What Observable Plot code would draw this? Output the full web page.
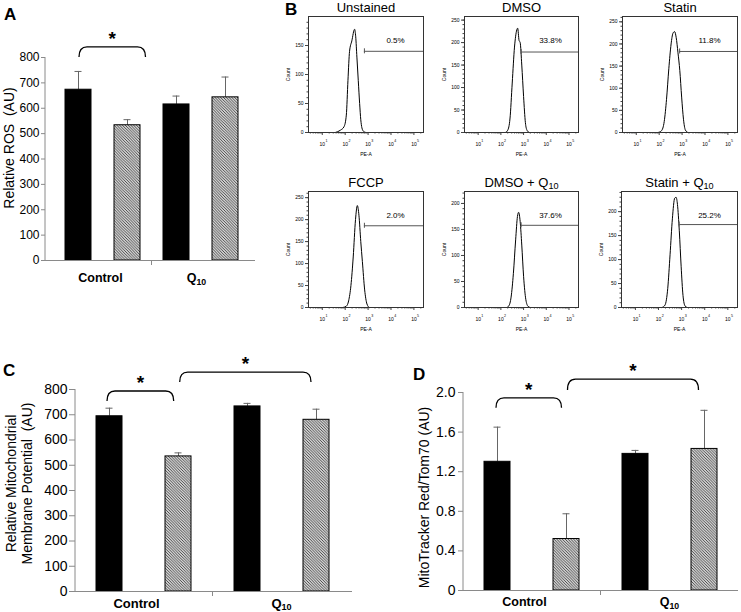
<!DOCTYPE html>
<html><head><meta charset="utf-8">
<script src="https://cdn.jsdelivr.net/npm/d3@7"></script>
<script src="https://cdn.jsdelivr.net/npm/@observablehq/plot@0.6"></script>
<style>
html,body{margin:0;padding:0;background:#fff;}
#fig{position:relative;width:741px;height:612px;overflow:hidden;background:#fff;font-family:'Liberation Sans',Arial,Helvetica,sans-serif;}
.panel{position:absolute;}
.panel svg{display:block;}
.letter{position:absolute;font-weight:bold;font-size:17px;line-height:17px;color:#000;}
</style></head>
<body>
<svg width="0" height="0" style="position:absolute">
  <defs>
    <pattern id="hatch" patternUnits="userSpaceOnUse" width="2.8" height="2.8">
      <rect width="2.8" height="2.8" fill="#d4d4d4"/>
      <path d="M-1,-1 L3.8,3.8 M-1,1.8 L1,3.8 M1.8,-1 L3.8,1" stroke="#2a2a2a" stroke-width="0.8"/>
    </pattern>
  </defs>
</svg>
<div id="fig">
  <div class="letter" style="left:4px;top:5.6px">A</div>
  <div class="letter" style="left:285px;top:0.6px">B</div>
  <div class="letter" style="left:3px;top:361.6px">C</div>
  <div class="letter" style="left:413px;top:365.6px">D</div>
</div>
<script>
// ---------------- data ----------------
const groups = ["Control", "Q10"];
const treatments = ["DMSO", "Statin"];
const barKeys = ["Control DMSO", "Control Statin", "Q10 DMSO", "Q10 Statin"];

// Panel A: relative ROS
const rosMean = [673, 533, 615, 643];
const rosErr  = [72, 22, 33, 80];
const rosTicks = [0, 100, 200, 300, 400, 500, 600, 700, 800];
const rosBrackets = [{from: 0, to: 1, top: 840, end: 800}];

// Panel C: mitochondrial membrane potential
const mmpMean = [694, 535, 733, 680];
const mmpErr  = [32, 14, 12, 42];
const mmpTicks = [0, 100, 200, 300, 400, 500, 600, 700, 800];
const mmpBrackets = [{from: 0, to: 1, top: 792, end: 752}, {from: 1, to: 3, top: 867, end: 828}];

// Panel D: MitoTracker Red / Tom70
const mitoMean = [1.30, 0.52, 1.38, 1.43];
const mitoErr  = [0.35, 0.255, 0.035, 0.39];
const mitoTicks = [0, 0.4, 0.8, 1.2, 1.6, 2.0];
const mitoTickLabels = ["0", "0.4", "0.8", "1.2", "1.6", "2.0"];
const mitoBrackets = [{from: 0, to: 1, top: 1.94, end: 1.84}, {from: 1, to: 3, top: 2.13, end: 2.02}];

// Panel B: flow cytometry histograms (PE-A vs Count)
const histTitles  = ["Unstained", "DMSO", "Statin", "FCCP", "DMSO + Q10", "Statin + Q10"];
const histPercent = ["0.5%", "33.8%", "11.8%", "2.0%", "37.6%", "25.2%"];
const peDomain = [2.5, 262144];
const peDecades = [10, 100, 1000, 10000, 100000];
const peExponents = ["1", "2", "3", "4", "5"];

const unstainedPE    = [37, 62, 89, 112, 132, 155, 195, 257, 288, 324, 372, 427, 479, 537, 631, 794];
const unstainedCount = [0, 4, 10, 30, 90, 140, 158, 178, 165, 130, 90, 50, 22, 8, 2, 0];
const dmsoPE    = [158, 200, 251, 316, 398, 501, 550, 631, 708, 832, 1000, 1202, 1413, 1778];
const dmsoCount = [0, 5, 30, 110, 190, 228, 232, 205, 200, 150, 80, 22, 5, 0];
const statinPE    = [89, 126, 166, 209, 263, 331, 398, 468, 550, 661, 794, 955, 1148, 1380, 1778];
const statinCount = [0, 4, 25, 75, 144, 200, 224, 228, 215, 180, 140, 80, 30, 6, 0];
const fccpPE    = [79, 112, 141, 178, 224, 282, 339, 398, 479, 562, 708, 891, 1122];
const fccpCount = [0, 3, 15, 50, 115, 200, 232, 210, 150, 105, 40, 8, 0];
const dmsoQ10PE    = [178, 224, 282, 355, 447, 537, 603, 708, 832, 1000, 1259, 1585, 1995];
const dmsoQ10Count = [0, 3, 20, 65, 130, 175, 183, 165, 120, 60, 15, 2, 0];
const statinQ10PE    = [141, 191, 251, 316, 398, 501, 575, 661, 794, 955, 1148, 1413, 1778];
const statinQ10Count = [0, 5, 40, 110, 185, 228, 230, 215, 160, 85, 25, 3, 0];

const histPE    = [unstainedPE, dmsoPE, statinPE, fccpPE, dmsoQ10PE, statinQ10PE];
const histCount = [unstainedCount, dmsoCount, statinCount, fccpCount, dmsoQ10Count, statinQ10Count];
const gateStart = [690, 780, 780, 690, 780, 780];
const gateCount = [140, 179, 183, 186, 158, 173];
const countMax  = [200, 258, 262, 264, 223, 242];
const countTicks = [
  [0, 50, 100, 150],
  [0, 50, 100, 150, 200, 250],
  [0, 50, 100, 150, 200, 250],
  [0, 50, 100, 150, 200, 250],
  [0, 50, 100, 150, 200],
  [0, 50, 100, 150, 200]
];

// ---------------- layout / style ----------------
const FONT = "'Liberation Sans', Arial, Helvetica, sans-serif";
const AXIS = "#8a8a8a";
const STAR = 19;
const fig = document.getElementById("fig");

function place(node, left, top, w, h) {
  const d = document.createElement("div");
  d.className = "panel";
  d.style.left = left + "px"; d.style.top = top + "px";
  d.style.width = w + "px"; d.style.height = h + "px";
  d.appendChild(node);
  fig.appendChild(d);
}

function addSub(t, s) {
  const m = /^(.*)Q10$/.exec(s);
  if (m) {
    t.text(m[1] + "Q");
    t.append("tspan").attr("dy", "0.3em").attr("font-size", "0.7em").text("10");
  } else t.text(s);
}

function annotate(cfg) {
  return (index, scales, values, dim) => {
    const x = scales.x, y = scales.y;
    const bw = typeof x.bandwidth === "function" ? x.bandwidth() : 0;
    const cx = i => x(barKeys[i]) + bw / 2;
    const g = d3.create("svg:g").attr("font-family", FONT);
    const left = dim.marginLeft, bottom = dim.height - dim.marginBottom;
    g.append("line").attr("x1", left).attr("x2", left).attr("y1", dim.marginTop).attr("y2", bottom)
      .attr("stroke", AXIS);
    const mid = (cx(1) + cx(2)) / 2;
    g.append("line").attr("x1", mid).attr("x2", mid).attr("y1", bottom).attr("y2", bottom + 5)
      .attr("stroke", AXIS);
    groups.forEach((gname, gi) => {
      const gx = (cx(2 * gi) + cx(2 * gi + 1)) / 2 + cfg.groupDx[gi];
      const t = g.append("text").attr("x", gx).attr("y", bottom + cfg.groupDy)
        .attr("text-anchor", "middle").attr("font-weight", "bold").attr("font-size", cfg.groupSize);
      addSub(t, gname);
    });
    cfg.brackets.forEach((b, bi) => {
      const [o1, o2] = cfg.bracketDx[bi];
      const x1 = cx(b.from) + o1, x2 = cx(b.to) + o2, yt = y(b.top), ye = y(b.end);
      const r = 8;
      g.append("path")
        .attr("d", `M${x1},${ye} Q${x1},${yt} ${x1 + r},${yt} L${x2 - r},${yt} Q${x2},${yt} ${x2},${ye}`)
        .attr("fill", "none").attr("stroke", "#000").attr("stroke-width", 1.3);
      g.append("text").attr("x", (x1 + x2) / 2).attr("y", yt - 13 + 0.585 * STAR)
        .attr("text-anchor", "middle").attr("font-weight", "bold").attr("font-size", STAR).text("*");
    });
    return g.node();
  };
}

function barPanel(cfg) {
  const rows = barKeys.map((k, i) => ({key: k, trt: treatments[i % 2], mean: cfg.means[i], top: cfg.means[i] + cfg.errs[i]}));
  const [mt, mr, mb, ml] = cfg.m;
  const plot = Plot.plot({
    width: cfg.width, height: cfg.height,
    marginTop: mt, marginRight: mr, marginBottom: mb, marginLeft: ml,
    style: {fontFamily: FONT, fontSize: cfg.tickFont + "px", background: "transparent", color: "#000", overflow: "visible"},
    x: {type: "band", domain: barKeys, range: cfg.xRange, paddingInner: cfg.pi, paddingOuter: cfg.po, axis: null},
    y: {domain: cfg.domain},
    marks: [
      Plot.ruleX(rows, {x: "key", y1: "mean", y2: "top", stroke: "#666", strokeWidth: 1}),
      Plot.tickY(rows, {x: "key", y: "top", stroke: "#666", strokeWidth: 1, insetLeft: 9.5, insetRight: 9.5}),
      Plot.barY(rows.filter(d => d.trt === "DMSO"), {x: "key", y: "mean", fill: "#000", stroke: "#000", strokeWidth: 1}),
      Plot.barY(rows.filter(d => d.trt === "Statin"), {x: "key", y: "mean", fill: "url(#hatch)", stroke: "#000", strokeWidth: 1}),
      Plot.ruleY([cfg.domain[0]], {stroke: AXIS}),
      Plot.axisY({ticks: cfg.ticks, tickFormat: d => cfg.tickLabels[cfg.ticks.indexOf(d)], tickSize: cfg.tickSize,
        tickPadding: cfg.tickPad, fontSize: cfg.tickFont, stroke: AXIS, label: null}),
      Plot.text([cfg.yLabel], {text: d => d, frameAnchor: "left", rotate: -90, dx: cfg.labelDx, dy: cfg.labelDy,
        textAnchor: "middle", lineAnchor: "middle", fontSize: 14, lineHeight: 1.18, fill: "#000"}),
      annotate(cfg)
    ]
  });
  place(plot, cfg.left, cfg.top, cfg.width, cfg.height);
}

barPanel({
  means: rosMean, errs: rosErr, domain: [0, 800], ticks: rosTicks, tickLabels: rosTicks.map(String),
  width: 260, height: 290, m: [57, 5, 30, 45], xRange: [52.25, 250.25], pi: 0.475, po: 0.2375,
  tickSize: 4, tickPad: 2, tickFont: 12, yLabel: "Relative ROS\u00a0 (AU)", labelDx: -37, labelDy: -11,
  groupDx: [-2, -4], groupDy: 22, groupSize: 12.5, brackets: rosBrackets, bracketDx: [[1, 18.5]], left: 0, top: 0
});
barPanel({
  means: mmpMean, errs: mmpErr, domain: [0, 800], ticks: mmpTicks, tickLabels: mmpTicks.map(String),
  width: 370, height: 282, m: [59, 18, 21, 75], xRange: [73.33, 350.67], pi: 0.625, po: 0.3125,
  tickSize: 6, tickPad: 2, tickFont: 14, yLabel: "Relative Mitochondrial\nMembrane Potential\u00a0 (AU)",
  labelDx: -57, labelDy: -7, groupDx: [-7, 0], groupDy: 16.5, groupSize: 13,
  brackets: mmpBrackets, bracketDx: [[-2, -4.3], [1.7, -5]], left: 0, top: 330
});
barPanel({
  means: mitoMean, errs: mitoErr, domain: [0, 2], ticks: mitoTicks, tickLabels: mitoTickLabels,
  width: 371, height: 282, m: [62, 3, 22, 93], xRange: [91.25, 369.25], pi: 0.62, po: 0.31,
  tickSize: 5, tickPad: 3, tickFont: 14, yLabel: "MitoTracker Red/Tom70 (AU)",
  labelDx: -39.5, labelDy: 6, groupDx: [-7, 0], groupDy: 16, groupSize: 12.5,
  brackets: mitoBrackets, bracketDx: [[-1, -4.5], [1.5, -5.5]], left: 370, top: 330
});

// ---------------- histograms ----------------
const histFrames = [
  [308, 423, 16, 132], [464, 578, 16, 132], [622, 737, 16, 132],
  [308, 423, 191, 307], [464, 578, 191, 307], [621, 737, 191, 307]
];
const minorX = [];
for (let e = 0; e <= 5; e++) for (let k = 2; k <= 9; k++) {
  const v = k * Math.pow(10, e);
  if (v > peDomain[0] && v < peDomain[1]) minorX.push(v);
}

histFrames.forEach(([fl, fr, ft, fb], i) => {
  const fw = fr - fl, fh = fb - ft;
  const W = fw + 34, H = fh + 16 + 26;
  const data = histPE[i].map((p, j) => ({pe: p, count: histCount[i][j]}));
  const minorY = d3.range(0, countMax[i], 10);
  const plot = Plot.plot({
    width: W, height: H, marginLeft: 30, marginRight: 4, marginTop: 16, marginBottom: 26,
    style: {fontFamily: FONT, fontSize: "5px", background: "transparent", color: "#000", overflow: "visible"},
    x: {type: "log", domain: peDomain},
    y: {domain: [0, countMax[i]]},
    marks: [
      Plot.axisY({ticks: minorY, tickSize: 1.5, tickFormat: () => "", stroke: "#444", label: null}),
      Plot.axisY({ticks: countTicks[i], tickSize: 3, tickPadding: 2, fontSize: 5, stroke: "#444", label: null}),
      Plot.axisX({ticks: minorX, tickSize: 1.5, tickFormat: () => "", stroke: "#444", label: null}),
      Plot.axisX({ticks: peDecades, tickSize: 3, tickFormat: () => "", stroke: "#444", label: null}),
      Plot.text(peDecades, {x: d => d, text: () => "10", frameAnchor: "bottom", dy: 13, lineAnchor: "bottom", textAnchor: "middle", fontSize: 5}),
      Plot.text(peDecades, {x: d => d, text: (d, j) => peExponents[j], frameAnchor: "bottom", dx: 3.2, dy: 9.8,
        lineAnchor: "bottom", textAnchor: "start", fontSize: 3.6}),
      Plot.line(data, {x: "pe", y: "count", curve: "monotone-x", stroke: "#000", strokeWidth: 1}),
      Plot.ruleY([gateCount[i]], {x1: gateStart[i], x2: peDomain[1], stroke: "#555", strokeWidth: 1}),
      Plot.ruleX([gateStart[i]], {y1: gateCount[i], y2: gateCount[i], insetTop: -2.5, insetBottom: -2.5, stroke: "#555"}),
      Plot.frame({stroke: "#333", strokeWidth: 1}),
      Plot.text([histTitles[i]], {text: d => d, frameAnchor: "top", dy: -5, lineAnchor: "bottom", textAnchor: "middle", fontSize: 13}),
      Plot.text([histPercent[i]], {text: d => d, frameAnchor: "top-right", dx: -28, dy: 26, lineAnchor: "bottom",
        textAnchor: "middle", fontSize: 8}),
      Plot.text(["Count"], {text: d => d, frameAnchor: "left", dx: -20, rotate: -90, textAnchor: "middle", lineAnchor: "middle", fontSize: 5}),
      Plot.text(["PE-A"], {text: d => d, frameAnchor: "bottom", dy: 23, lineAnchor: "bottom", textAnchor: "middle", fontSize: 5})
    ]
  });
  // subscript "10" in Q10 titles
  d3.select(plot).selectAll("text").each(function () {
    const s = this.textContent;
    if (/Q10$/.test(s) && this.childElementCount === 0) addSub(d3.select(this), s);
  });
  place(plot, fl - 30, ft - 16, W, H);
});
</script>
</body></html>
